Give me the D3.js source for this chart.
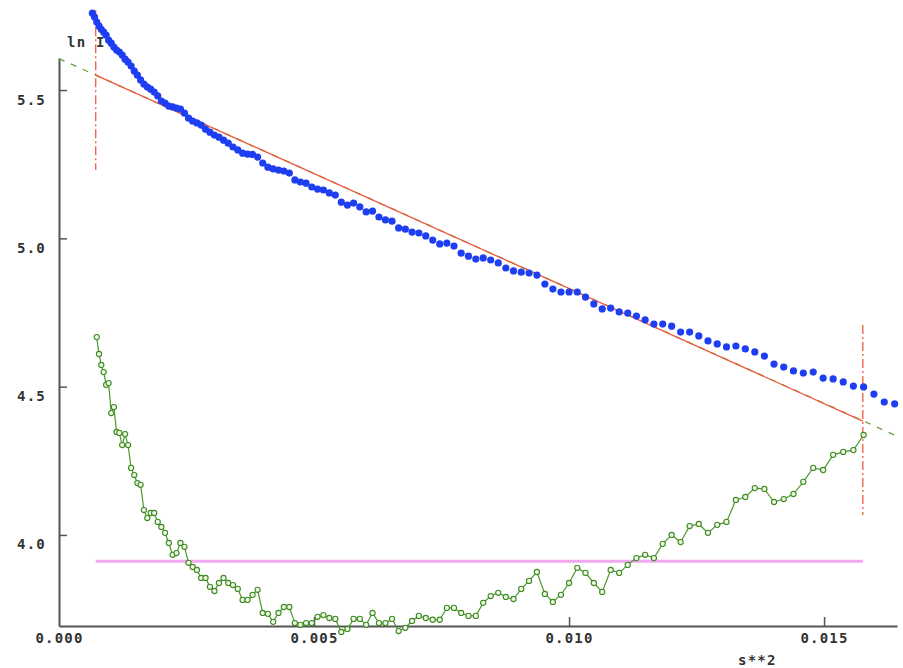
<!DOCTYPE html>
<html>
<head>
<meta charset="utf-8">
<script src="https://cdn.jsdelivr.net/npm/d3@7"></script>
<style>
  html, body { margin: 0; padding: 0; background: #fff; }
  svg { display: block; }
  .lbl { font-family: "DejaVu Sans Mono", monospace; font-weight: bold; font-size: 14px; fill: #333; letter-spacing: 1.2px; }
</style>
</head>
<body>
<svg id="chart" width="903" height="668"></svg>
<script>
// ---- data ----
// s**2 positions (x) of the measured points
const s2 = [
0.000655,0.000697,0.000740,0.000784,0.000829,0.000876,0.000924,0.000973,0.001024,0.001076,
0.001129,0.001183,0.001239,0.001296,0.001354,0.001414,0.001475,0.001537,0.001600,0.001665,
0.001731,0.001798,0.001866,0.001936,0.002007,0.002079,0.002153,0.002228,0.002304,0.002381,
0.002460,0.002540,0.002621,0.002704,0.002788,0.002873,0.002959,0.003047,0.003136,0.003226,
0.003318,0.003411,0.003505,0.003600,0.003697,0.003795,0.003894,0.003994,0.004096,0.004199,
0.004303,0.004409,0.004516,0.004624,0.004733,0.004844,0.004956,0.005069,0.005184,0.005300,
0.005417,0.005535,0.005655,0.005776,0.005898,0.006022,0.006147,0.006273,0.006400,0.006529,
0.006659,0.006790,0.006922,0.007056,0.007191,0.007327,0.007465,0.007604,0.007744,0.007885,
0.008028,0.008172,0.008317,0.008464,0.008612,0.008761,0.008911,0.009063,0.009216,0.009370,
0.009526,0.009683,0.009841,0.010000,0.010161,0.010323,0.010486,0.010650,0.010816,0.010983,
0.011151,0.011321,0.011492,0.011664,0.011837,0.012012,0.012188,0.012365,0.012544,0.012724,
0.012905,0.013087,0.013271,0.013456,0.013642,0.013830,0.014019,0.014209,0.014400,0.014593,
0.014787,0.014982,0.015178,0.015376,0.015575,0.015775,0.015977,0.016180,0.016384
];
// ln I values (blue dots), one per s2 entry
const lnI = [
5.759,5.746,5.729,5.716,5.705,5.695,5.685,5.668,5.658,5.645,
5.635,5.628,5.618,5.604,5.594,5.581,5.564,5.550,5.534,5.520,
5.510,5.503,5.493,5.480,5.463,5.456,5.446,5.443,5.439,5.436,
5.422,5.405,5.395,5.389,5.382,5.368,5.358,5.348,5.341,5.331,
5.321,5.308,5.298,5.287,5.284,5.283,5.274,5.254,5.240,5.234,
5.230,5.227,
5.220,5.197,5.190,5.186,5.173,5.166,5.163,5.153,5.146,5.122,
5.112,5.119,5.106,5.089,5.092,5.072,5.062,5.058,5.035,5.031,
5.021,5.018,5.008,4.994,4.981,4.984,4.974,4.950,4.940,4.930,
4.934,4.927,4.917,4.900,4.890,4.886,4.883,4.876,4.846,4.829,
4.819,4.819,
4.819,4.802,4.779,4.762,4.765,4.752,4.748,4.738,4.725,4.711,
4.711,4.704,4.684,4.684,4.671,4.654,4.644,4.634,4.637,4.627,
4.617,4.603,4.576,4.566,4.553,4.546,4.549,4.529,4.526,4.516,
4.502,4.499,4.475,4.448,4.442
];
// green curve: values for points s2[greenStart] ... (fit range)
const greenStart = 2;
const green = [
4.667,4.610,4.573,4.549,4.506,4.512,4.411,4.431,4.347,4.344,4.303,4.340,4.303,
4.226,4.202,4.175,4.169,4.084,4.057,4.074,4.074,4.044,4.027,4.007,3.973,
3.933,3.939,3.973,3.960,3.906,3.892,3.882,3.855,3.855,3.825,3.811,3.838,
3.855,3.838,3.831,3.818,3.781,3.781,3.798,3.815,3.737,3.734,3.707,3.737,
3.757,3.757,3.703,3.697,3.703,3.703,
3.724,3.730,3.720,3.717,3.673,3.683,3.717,3.717,3.697,3.737,3.703,3.703,
3.717,3.676,3.687,3.710,3.727,3.720,3.714,3.714,3.754,3.754,3.737,3.727,
3.727,3.771,3.794,3.805,3.791,3.784,3.818,3.845,3.875,3.801,3.774,3.798,
3.838,3.889,3.872,3.838,3.808,3.882,3.872,3.899,3.922,3.933,3.922,3.970,
4.000,3.976,4.030,4.037,4.007,4.034,4.044,4.118,4.128,4.158,4.155,4.111,
4.121,4.138,4.179,4.226,4.219,4.270,4.280,4.286,4.337
];
// fitted straight line: solid over the fit range, dashed extension over the whole axis
const fitSolid  = [[0.00072, 5.550], [0.01576, 4.384]];
const fitDashed = [[0.0,     5.606], [0.01643, 4.333]];
// fit-range markers (dash-dot verticals) and horizontal reference level
const rangeMarks = [
  { x: 0.00072, y0: 5.769, y1: 5.230 },
  { x: 0.01576, y0: 4.708, y1: 4.067 }
];
const refLevel = { x0: 0.00072, x1: 0.01576, y: 3.911 };
// axes
const xTicks = [0.000, 0.005, 0.010, 0.015];
const yTicks = [4.0, 4.5, 5.0, 5.5];
const xLabel = "s**2";
const yLabel = "ln I";

// ---- drawing ----
const svg = d3.select("#chart");
const x = d3.scaleLinear().domain([0, 0.01643]).range([59, 897]);
const y = d3.scaleLinear().domain([3.693, 5.608]).range([626, 58]);

// horizontal reference level (magenta)
svg.append("line")
  .attr("x1", x(refLevel.x0)).attr("x2", x(refLevel.x1))
  .attr("y1", y(refLevel.y)).attr("y2", y(refLevel.y))
  .attr("stroke", "#f0a8f0").attr("stroke-width", 3);

// axes
const xAxis = d3.axisBottom(x).tickValues(xTicks).tickFormat(d3.format(".3f"))
  .tickSizeInner(-9).tickSizeOuter(0).tickPadding(7);
const yAxis = d3.axisLeft(y).tickValues(yTicks).tickFormat(d3.format(".1f"))
  .tickSizeInner(-8).tickSizeOuter(0).tickPadding(13);

const gx = svg.append("g").attr("transform", "translate(0,626)").call(xAxis);
const gy = svg.append("g").attr("transform", "translate(59,0)").call(yAxis);
[gx, gy].forEach(g => {
  g.select(".domain").attr("stroke", "#555").attr("stroke-width", 2);
  g.selectAll(".tick line").attr("stroke", "#555").attr("stroke-width", 1.5);
  g.selectAll(".tick text").attr("class", "lbl").attr("fill", "#333");
});
gx.selectAll(".tick").filter(d => d === 0).select("line").remove();
gy.selectAll(".tick text").attr("dy", "14px");

// axis titles
svg.append("text").attr("class", "lbl").attr("x", 67).attr("y", 47).text(yLabel);
svg.append("text").attr("class", "lbl").attr("x", 738).attr("y", 665).text(xLabel);

// dashed extension of the fit (green)
const line = d3.line().x(d => x(d[0])).y(d => y(d[1]));
svg.append("path").attr("d", line(fitDashed))
  .attr("fill", "none").attr("stroke", "#6aa040").attr("stroke-width", 1.3)
  .attr("stroke-dasharray", "6,7");
// solid fit (red)
svg.append("path").attr("d", line(fitSolid))
  .attr("fill", "none").attr("stroke", "#ee5a40").attr("stroke-width", 1.3);

// fit range markers
svg.selectAll(".rmark").data(rangeMarks).enter().append("line")
  .attr("x1", d => x(d.x)).attr("x2", d => x(d.x))
  .attr("y1", d => y(d.y0)).attr("y2", d => y(d.y1))
  .attr("stroke", "#f05a40").attr("stroke-width", 1.3)
  .attr("stroke-dasharray", "9,3,2,3");

// green curve
const gData = green.map((v, i) => [s2[greenStart + i], v]);
svg.append("path").attr("d", line(gData))
  .attr("fill", "none").attr("stroke", "#4c9a2c").attr("stroke-width", 1.2);
svg.selectAll(".gpt").data(gData).enter().append("circle")
  .attr("cx", d => x(d[0])).attr("cy", d => y(d[1])).attr("r", 2.6)
  .attr("fill", "#eef7e8").attr("stroke", "#3d8a1f").attr("stroke-width", 1.1);

// blue points
svg.selectAll(".bpt").data(lnI).enter().append("circle")
  .attr("cx", (d, i) => x(s2[i])).attr("cy", d => y(d)).attr("r", 3.6)
  .attr("fill", "#1e3ef2");
</script>
</body>
</html>
